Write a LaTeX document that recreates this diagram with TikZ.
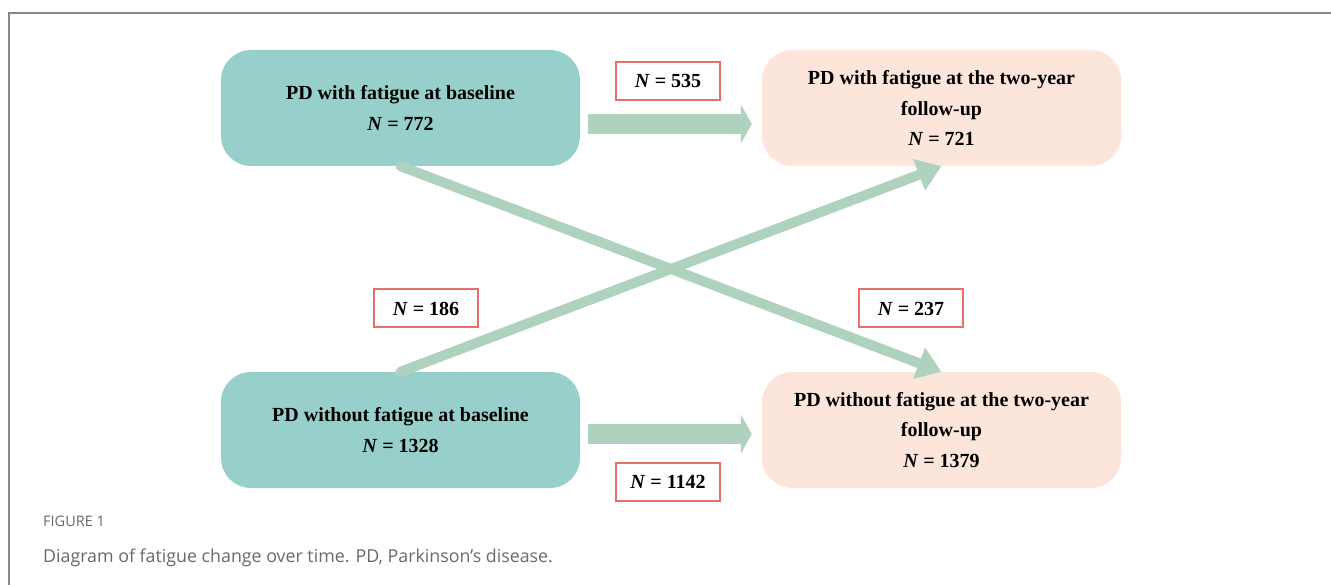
\documentclass[tikz,border=0pt]{standalone}
\usepackage{fontspec}
\setmainfont{Liberation Serif}
\newfontfamily\capfont{Open Sans}
\usetikzlibrary{arrows.meta}
\definecolor{basebg}{RGB}{151,208,202}
\definecolor{followbg}{RGB}{252,230,220}
\definecolor{flowgreen}{RGB}{174,210,190}
\definecolor{countborder}{RGB}{231,111,107}
\definecolor{framegray}{RGB}{135,135,135}
\definecolor{capgray}{RGB}{105,105,105}
\tikzset{
  group/.style={rounded corners=30pt, minimum width=359pt, minimum height=116pt,
    align=center, font=\fontsize{20}{30.5}\selectfont\bfseries, inner sep=0pt},
  count/.style={draw=countborder, line width=2pt, fill=white, minimum width=104pt,
    minimum height=38pt, font=\fontsize{20}{22}\selectfont\bfseries, inner sep=0pt},
  flat/.style={draw=flowgreen, line width=20pt, -{Triangle[length=11pt,width=39pt]}},
  cross/.style={draw=flowgreen, line width=10pt, line cap=round,
    -{Triangle[length=24pt,width=32pt]}}
}
\newcommand{\nval}[1]{\textit{N} = #1}
\begin{document}
\begin{tikzpicture}[x=1pt,y=-1pt]
\useasboundingbox (0,0) rectangle (1331,585);
% frame
\draw[framegray, line width=1.5pt] (1331,13) -- (9,13) -- (9,585);
% groups
\node[group, fill=basebg] (withbase) at (400.5,108) {PD with fatigue at baseline\\\nval{772}};
\node[group, fill=followbg] (withfollow) at (941.5,108) {PD with fatigue at the two-year\\follow-up\\\nval{721}};
\node[group, fill=basebg] (nobase) at (400.5,430) {PD without fatigue at baseline\\\nval{1328}};
\node[group, fill=followbg] (nofollow) at (941.5,430) {PD without fatigue at the two-year\\follow-up\\\nval{1379}};
% flows
\draw[flat] ([xshift=8pt,yshift=-16pt]withbase.east) -- ([xshift=-10pt,yshift=-16pt]withfollow.west);
\draw[flat] ([xshift=8pt,yshift=-4pt]nobase.east) -- ([xshift=-10pt,yshift=-4pt]nofollow.west);
\draw[cross] (withbase.south) -- (nofollow.north);
\draw[cross] (nobase.north) -- (withfollow.south);
% counts
\node[count] (stay) at (668,81) {\nval{535}};
\node[count] (gain) at (426,308.5) {\nval{186}};
\node[count] (lose) at (911,308.5) {\nval{237}};
\node[count] (free) at (668,481.5) {\nval{1142}};
% caption
\node[anchor=base west, inner sep=0pt, text=capgray, font=\capfont\fontsize{14.5}{16}\selectfont] (figlabel) at (43,526) {FIGURE 1};
\node[anchor=base west, inner sep=0pt, text=capgray, font=\capfont\fontsize{17.8}{20}\selectfont] (figtext) at (43,562) {Diagram of fatigue change over time. PD, Parkinson’s disease.};
\end{tikzpicture}
\end{document}
